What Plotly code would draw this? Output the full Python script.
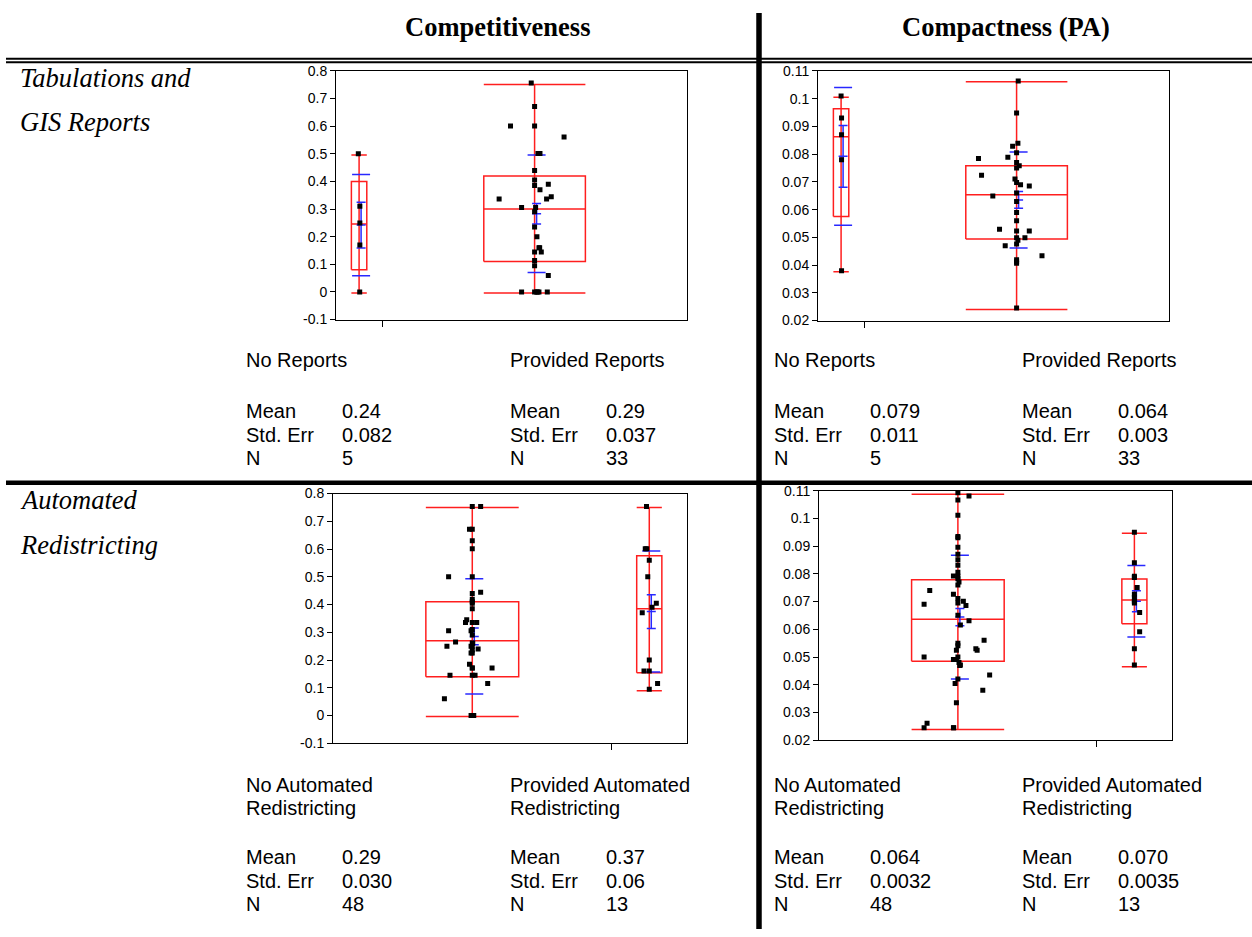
import plotly.graph_objects as go

W, H = 1252, 937

# ---------------- data ----------------
col_titles = ["Competitiveness", "Compactness (PA)"]
row_titles = [["Tabulations and", "GIS Reports"], ["Automated", "Redistricting"]]
group_labels = [[["No Reports"], ["Provided Reports"]],
                [["No Automated", "Redistricting"], ["Provided Automated", "Redistricting"]]]
stat_names = ["Mean", "Std. Err", "N"]

comp_ticks = [-0.1, 0, 0.1, 0.2, 0.3, 0.4, 0.5, 0.6, 0.7, 0.8]
comp_ticklabels = ["-0.1", "0", "0.1", "0.2", "0.3", "0.4", "0.5", "0.6", "0.7", "0.8"]
pa_ticks = [0.02, 0.03, 0.04, 0.05, 0.06, 0.07, 0.08, 0.09, 0.10, 0.11]
pa_ticklabels = ["0.02", "0.03", "0.04", "0.05", "0.06", "0.07", "0.08", "0.09", "0.1", "0.11"]

# Top-left: Competitiveness by Reports
tl_no_vals = [0.5, 0.31, 0.25, 0.17, 0.0]
tl_no_jit = [-0.05, 0.05, 0.05, 0.05, 0.04]
tl_yes_vals = [0.756, 0.671, 0.601, 0.601, 0.561, 0.501, 0.501, 0.44, 0.405, 0.385,
               0.39, 0.37, 0.345, 0.336, 0.336, 0.306, 0.306, 0.29, 0.235, 0.2,
               0.16, 0.16, 0.145, 0.145, 0.114, 0.095, 0.06,
               0, 0, 0, 0, 0, 0]
tl_yes_jit = [-0.033, 0, -0.237, 0, 0.29, 0.033, 0.053, 0, 0, 0,
              0.135, 0.053, 0.164, -0.349, 0.118, -0.128, 0.01, 0, 0, 0.023,
              0.043, 0.05, 0.066, 0, 0, 0, 0.135,
              -0.128, 0, 0.02, 0.043, 0.125, 0.03]
tl_q1 = [0.08, 0.11]
tl_med = [0.246, 0.30]
tl_q3 = [0.40, 0.42]
tl_lo = [-0.004, -0.004]
tl_hi = [0.496, 0.751]
tl_mean = [0.242, 0.283]
tl_se = [0.083, 0.037]
tl_sd = [0.1835, 0.2125]
tl_stats = [["0.24", "0.082", "5"], ["0.29", "0.037", "33"]]

# Top-right: Compactness by Reports
tr_no_vals = [0.101, 0.093, 0.087, 0.078, 0.038]
tr_no_jit = [0, 0.03, 0.03, 0.03, 0.03]
tr_yes_vals = [0.1064, 0.0948, 0.0839, 0.0828, 0.0805, 0.0789, 0.0784, 0.0770, 0.0758, 0.0750,
               0.0724, 0.0710, 0.0698, 0.0690, 0.0685, 0.0649, 0.0660, 0.0629, 0.0590, 0.0560,
               0.0529, 0.0523, 0.0523, 0.0499, 0.0499, 0.0490, 0.0476, 0.0470, 0.0434, 0.0419,
               0.0412, 0.0407, 0.0245]
tr_yes_jit = [0.016, 0, 0.013, -0.039, 0, -0.086, -0.375, 0, 0.026, 0,
              -0.345, -0.016, 0, 0.039, 0.125, -0.234, 0, 0, 0, 0,
              -0.168, 0, 0.125, 0, 0.082, 0.013, 0, -0.112, 0.25, 0,
              0, 0, 0]
tr_q1 = [0.0575, 0.0494]
tr_med = [0.0863, 0.0654]
tr_q3 = [0.0964, 0.0758]
tr_lo = [0.0376, 0.0240]
tr_hi = [0.1005, 0.1061]
tr_mean = [0.0792, 0.0635]
tr_se = [0.0111, 0.0030]
tr_sd = [0.0248, 0.0173]
tr_stats = [["0.079", "0.011", "5"], ["0.064", "0.003", "33"]]

# Bottom-left: Competitiveness by Automated Redistricting
bl_no_vals = [0.753, 0.753, 0.671, 0.671, 0.630, 0.601, 0.5, 0.5, 0.444, 0.44,
              0.419, 0.41, 0.405, 0.385, 0.345, 0.335, 0.335, 0.335, 0.305, 0.31,
              0.305, 0.29, 0.265, 0.261, 0.25, 0.25, 0.25, 0.24, 0.236, 0.225,
              0.185, 0.171, 0.171, 0.145, 0.145, 0.115, 0.06, 0, 0, 0,
              0, 0, 0, 0.145, 0.171, 0.225, 0.26, 0]
bl_no_jit = [0, 0.09, -0.03, 0, 0, 0, -0.255, 0, 0.09, 0,
             0, 0, 0, 0, -0.06, -0.073, 0, 0.048, -0.255, 0,
             -0.013, 0, -0.18, 0, -0.273, -0.013, 0, 0.063, 0, -0.013,
             -0.03, 0, 0.213, -0.24, 0.03, 0.166, -0.30, -0.013, 0, 0.016,
             0.005, -0.005, 0.01, 0, 0, 0, 0.005, 0]
bl_yes_vals = [0.753, 0.601, 0.601, 0.560, 0.5, 0.405, 0.39, 0.37, 0.2, 0.16, 0.16, 0.115, 0.095]
bl_yes_jit = [-0.11, -0.16, -0.1, 0, -0.06, 0.28, 0.11, -0.28, 0, -0.21, 0, 0.33, 0]
bl_q1 = [0.14, 0.154]
bl_med = [0.269, 0.385]
bl_q3 = [0.41, 0.576]
bl_lo = [-0.004, 0.089]
bl_hi = [0.75, 0.75]
bl_mean = [0.285, 0.3745]
bl_se = [0.030, 0.0605]
bl_sd = [0.208, 0.218]
bl_stats = [["0.29", "0.030", "48"], ["0.37", "0.06", "13"]]

# Bottom-right: Compactness by Automated Redistricting
br_no_vals = [0.1092, 0.1081, 0.1066, 0.1011, 0.0935, 0.0930, 0.0896, 0.0871, 0.0851, 0.0831,
              0.0806, 0.0792, 0.0791, 0.0782, 0.0771, 0.0760, 0.0740, 0.0690, 0.0726, 0.0711,
              0.0701, 0.0695, 0.0686, 0.0651, 0.0631, 0.0616, 0.0561, 0.0550, 0.0541, 0.0530,
              0.0525, 0.0525, 0.0500, 0.0500, 0.0491, 0.0491, 0.0480, 0.0471, 0.0435, 0.0421,
              0.0405, 0.0380, 0.0335, 0.0261, 0.0245, 0.0245, 0.0245, 0.0470]
br_no_jit = [0, 0.12, 0, 0, 0, 0, 0, 0, 0, 0,
             0, -0.048, 0, 0, 0.012, 0, -0.304, -0.365, -0.048, 0,
             0.059, 0, 0.087, 0, 0.12, 0.027, 0.283, 0, 0, 0.194,
             0.208, -0.016, -0.365, 0, -0.048, -0.016, 0.012, 0.027, 0.343, 0,
             -0.03, 0.269, -0.016, -0.333, -0.365, -0.048, -0.045, 0.02]
br_yes_vals = [0.0950, 0.0840, 0.0791, 0.0787, 0.0751, 0.0726, 0.0715, 0.0701, 0.0695, 0.0661,
               0.0591, 0.0530, 0.0471]
br_yes_jit = [0, 0, 0, 0, 0.11, 0, 0, 0, 0, 0.21, 0.21, 0, 0]
br_q1 = [0.0485, 0.0620]
br_med = [0.0636, 0.0706]
br_q3 = [0.0779, 0.0781]
br_lo = [0.0239, 0.0465]
br_hi = [0.1087, 0.0946]
br_mean = [0.0644, 0.0701]
br_se = [0.0031, 0.0038]
br_sd = [0.0223, 0.0129]
br_stats = [["0.064", "0.0032", "48"], ["0.070", "0.0035", "13"]]

# ---------------- layout helpers ----------------
def px(x):
    return x / W


def py(y):
    return 1 - y / H


RED = "rgb(255,30,30)"
BLUE = "rgb(40,40,255)"
SANS = "Liberation Sans, Arial, Helvetica, sans-serif"
SERIF = "Liberation Serif, Times New Roman, serif"

panels = [
    dict(box=(336, 687, 64, 317), yr=(-0.1, 0.8), tv=comp_ticks, tt=comp_ticklabels,
         vals=[tl_no_vals, tl_yes_vals], jit=[tl_no_jit, tl_yes_jit],
         q1=tl_q1, med=tl_med, q3=tl_q3, lo=tl_lo, hi=tl_hi,
         mean=tl_mean, se=tl_se, sd=tl_sd, stats=tl_stats, row=0, col=0),
    dict(box=(818, 1169, 64, 318), yr=(0.02, 0.11), tv=pa_ticks, tt=pa_ticklabels,
         vals=[tr_no_vals, tr_yes_vals], jit=[tr_no_jit, tr_yes_jit],
         q1=tr_q1, med=tr_med, q3=tr_q3, lo=tr_lo, hi=tr_hi,
         mean=tr_mean, se=tr_se, sd=tr_sd, stats=tr_stats, row=0, col=1),
    dict(box=(333, 687, 494, 748), yr=(-0.1, 0.8), tv=comp_ticks, tt=comp_ticklabels,
         vals=[bl_no_vals, bl_yes_vals], jit=[bl_no_jit, bl_yes_jit],
         q1=bl_q1, med=bl_med, q3=bl_q3, lo=bl_lo, hi=bl_hi,
         mean=bl_mean, se=bl_se, sd=bl_sd, stats=bl_stats, row=1, col=0),
    dict(box=(819, 1172, 491, 745), yr=(0.02, 0.11), tv=pa_ticks, tt=pa_ticklabels,
         vals=[br_no_vals, br_yes_vals], jit=[br_no_jit, br_yes_jit],
         q1=br_q1, med=br_med, q3=br_q3, lo=br_lo, hi=br_hi,
         mean=br_mean, se=br_se, sd=br_sd, stats=br_stats, row=1, col=1),
]

fig = go.Figure()
layout_axes = {}

for i, p in enumerate(panels):
    k = i + 1
    xa = "x" if k == 1 else f"x{k}"
    ya = "y" if k == 1 else f"y{k}"
    x0, x1, y0, y1 = p["box"]
    ns = [len(v) for v in p["vals"]]
    ntot = sum(ns)
    ppu = (x1 - x0) / ntot  # pixels per x unit
    centers = [ns[0] / 2, ns[0] + ns[1] / 2]

    rx, ry, bx, by = [], [], [], []
    for g in range(2):
        c = centers[g]
        bw = ns[g] / 3
        a, b = c - bw / 2, c + bw / 2
        rx += [a, b, b, a, a, None]
        ry += [p["q1"][g], p["q1"][g], p["q3"][g], p["q3"][g], p["q1"][g], None]
        rx += [a, b, None]
        ry += [p["med"][g], p["med"][g], None]
        rx += [c, c, None, a, b, None, a, b, None]
        ry += [p["lo"][g], p["hi"][g], None, p["lo"][g], p["lo"][g], None,
               p["hi"][g], p["hi"][g], None]
        cb = c + 2.0 / ppu
        sdw = 9.0 / ppu
        sew = 4.5 / ppu
        m, se, sd = p["mean"][g], p["se"][g], p["sd"][g]
        bx += [cb - sdw, cb + sdw, None, cb - sdw, cb + sdw, None]
        by += [m - sd, m - sd, None, m + sd, m + sd, None]
        bx += [cb, cb, None, cb - sew, cb + sew, None, cb - sew, cb + sew, None,
               cb - sew, cb + sew, None]
        by += [m - se, m + se, None, m - se, m - se, None, m + se, m + se, None,
               m, m, None]

    fig.add_trace(go.Scatter(x=rx, y=ry, mode="lines", line=dict(color=RED, width=1.5),
                             xaxis=xa, yaxis=ya, showlegend=False, hoverinfo="skip"))
    fig.add_trace(go.Scatter(x=bx, y=by, mode="lines", line=dict(color=BLUE, width=1.5),
                             xaxis=xa, yaxis=ya, showlegend=False, hoverinfo="skip"))
    for g in range(2):
        bw = ns[g] / 3
        xs = [centers[g] + j * bw for j in p["jit"][g]]
        fig.add_trace(go.Scatter(x=xs, y=p["vals"][g], mode="markers",
                                 marker=dict(symbol="square", size=5, color="black"),
                                 xaxis=xa, yaxis=ya, showlegend=False))

    xkey = "xaxis" if k == 1 else f"xaxis{k}"
    ykey = "yaxis" if k == 1 else f"yaxis{k}"
    layout_axes[xkey] = dict(domain=[px(x0), px(x1)], anchor=ya, range=[0, ntot],
                             showgrid=False, zeroline=False, showline=True, mirror=True,
                             linecolor="black", linewidth=1, ticks="outside", ticklen=6,
                             tickcolor="black", tickvals=[ns[0]], ticktext=[""])
    layout_axes[ykey] = dict(domain=[py(y1), py(y0)], anchor=xa, range=list(p["yr"]),
                             showgrid=False, zeroline=False, showline=True, mirror=True,
                             linecolor="black", linewidth=1, ticks="outside", ticklen=5,
                             tickcolor="black", tickvals=p["tv"], ticktext=p["tt"],
                             tickfont=dict(family=SANS, size=14, color="black"))


def note(text, x, y, font, size, anchor="left"):
    return dict(text=text, x=px(x), y=py(y), xref="paper", yref="paper", showarrow=False,
                xanchor=anchor, yanchor="middle", font=dict(family=font, size=size, color="black"))


annotations = []
for t, xc in zip(col_titles, [497, 1006]):
    annotations.append(note(f"<b>{t}</b>", xc, 19, SERIF, 26.5, "center"))
for r, ys in enumerate([(71, 116), (501, 546)]):
    for t, yy in zip(row_titles[r], ys):
        annotations.append(note(f"<i>{t}</i>", 18, yy, SERIF, 26.5))

label_x = [[244, 508], [772, 1020]]
for p in panels:
    r, c = p["row"], p["col"]
    lab_y = [358] if r == 0 else [790, 814]
    stat_y0 = 410 if r == 0 else 864
    for g in range(2):
        xl = label_x[c][g]
        for line, yy in zip(group_labels[r][g], lab_y):
            annotations.append(note(line, xl, yy, SANS, 20))
        for s in range(3):
            yy = stat_y0 + 24 * s
            annotations.append(note(stat_names[s], xl, yy, SANS, 20))
            annotations.append(note(p["stats"][g][s], xl + 96, yy, SANS, 20))

shapes = [
    dict(type="line", xref="paper", yref="paper", x0=px(6), x1=1, y0=py(51.7), y1=py(51.7),
         line=dict(color="black", width=2)),
    dict(type="line", xref="paper", yref="paper", x0=px(6), x1=1, y0=py(55.3), y1=py(55.3),
         line=dict(color="black", width=2)),
    dict(type="line", xref="paper", yref="paper", x0=px(6), x1=1, y0=py(483), y1=py(483),
         line=dict(color="black", width=4.5)),
    dict(type="line", xref="paper", yref="paper", x0=px(759), x1=px(759), y0=py(5), y1=0,
         line=dict(color="black", width=5.5)),
]

fig.update_layout(width=W, height=H, margin=dict(l=0, r=0, t=0, b=0),
                  paper_bgcolor="white", plot_bgcolor="white",
                  annotations=annotations, shapes=shapes, **layout_axes)

fig.write_html("out.html", config={"displayModeBar": False},
               post_script="document.body.style.margin='0px';document.body.style.overflow='hidden';")
